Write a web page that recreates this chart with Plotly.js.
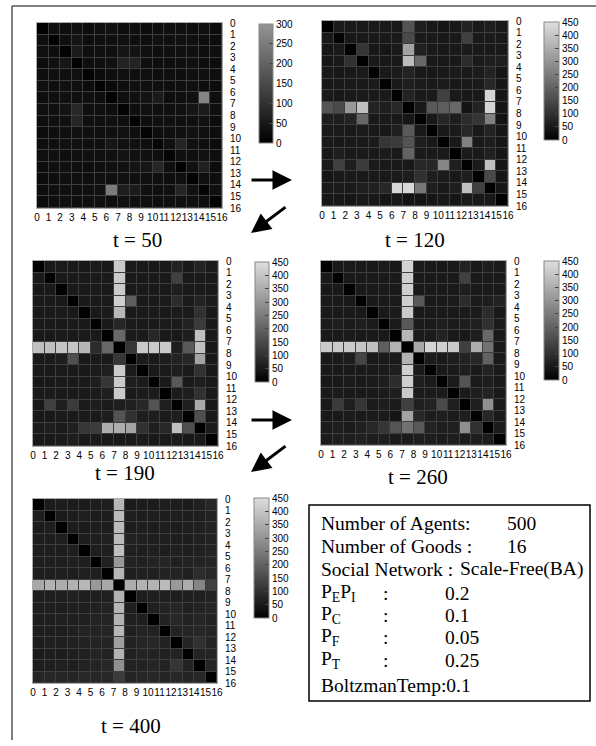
<!DOCTYPE html>
<html><head><meta charset="utf-8">
<script src="https://cdn.plot.ly/plotly-3.0.1.min.js"></script>
<style>body{margin:0;background:#fff}#chart{width:596px;height:746px}</style>
</head><body><div id="chart"></div>
<script>
// tick labels / cell edges (goods 0..16 boundaries)
const edgeLabels = ['0','1','2','3','4','5','6','7','8','9','10','11','12','13','14','15','16'];
const edges = [0,1,2,3,4,5,6,7,8,9,10,11,12,13,14,15,16];
const cbTicks300 = [0,50,100,150,200,250,300];
const cbTicks450 = [0,50,100,150,200,250,300,350,400,450];
const panelTitles = ['t = 50','t = 120','t = 190','t = 260','t = 400'];

const t50 = [
[5,30,28,32,26,30,35,28,30,25,28,30,32,28,30,25],
[28,5,30,40,28,30,32,35,30,28,32,30,35,30,28,25],
[30,28,5,55,30,32,30,45,40,30,28,30,32,30,28,30],
[25,30,45,0,28,30,32,70,70,30,25,28,30,32,28,25],
[28,32,30,35,8,25,28,30,32,30,28,30,28,30,32,28],
[30,28,32,30,25,5,20,28,30,32,30,28,30,32,28,25],
[28,30,35,32,30,28,5,30,32,40,55,28,30,32,270,28],
[30,32,40,80,32,30,28,10,30,35,30,32,35,45,55,30],
[28,30,32,75,30,32,35,30,5,28,30,35,32,30,35,25],
[25,28,30,35,32,30,32,35,30,8,28,30,32,35,30,28],
[28,30,32,35,30,32,45,35,32,30,15,32,75,35,30,25],
[30,32,28,30,32,30,32,40,35,32,30,10,32,30,35,28],
[28,30,32,30,28,30,32,35,40,45,80,30,5,32,65,25],
[25,28,30,32,30,32,30,35,32,30,32,28,30,8,30,28],
[28,30,32,30,32,35,250,60,55,32,30,35,75,35,10,30],
[25,28,30,28,30,32,30,35,32,30,28,30,32,30,28,8]];

const t120 = [
[0,55,50,50,52,50,48,170,60,48,45,48,70,50,60,50],
[50,8,48,50,50,52,50,150,55,50,48,50,130,50,55,50],
[45,50,5,110,48,45,50,330,65,50,48,50,55,50,50,50],
[45,50,100,0,50,48,50,380,210,50,48,50,90,55,60,60],
[50,48,50,52,5,50,55,70,50,48,50,52,50,55,70,45],
[48,50,52,50,55,5,50,60,55,50,52,48,50,55,80,45],
[50,48,50,55,50,52,5,70,50,52,130,50,48,50,430,45],
[170,150,310,390,70,60,80,0,50,180,190,210,40,70,430,45],
[60,60,70,210,50,52,50,45,0,50,80,60,90,110,260,40],
[50,52,50,55,50,48,60,180,50,5,50,55,80,50,70,45],
[50,48,52,50,55,110,120,170,60,50,5,50,260,50,60,45],
[48,60,50,55,50,55,50,200,55,50,50,0,55,50,65,45],
[50,130,60,120,55,50,50,50,80,80,270,60,0,55,390,45],
[45,50,55,50,52,50,55,60,100,60,55,50,60,5,150,45],
[50,55,50,60,65,80,440,440,240,60,50,60,390,130,0,45],
[45,48,45,50,48,45,50,40,40,45,48,45,50,48,50,0]];

const t190 = [
[0,50,52,50,50,52,50,410,55,50,48,50,70,50,70,55],
[50,5,50,52,50,50,55,410,50,50,52,50,130,50,55,50],
[48,50,5,50,50,52,50,410,50,52,50,50,60,50,55,50],
[50,52,50,0,50,50,52,420,190,50,50,52,90,55,70,55],
[50,50,52,50,5,50,55,370,50,50,52,50,55,55,100,50],
[52,50,50,55,50,5,50,80,55,50,50,55,55,70,120,50],
[50,52,55,50,52,50,5,210,55,55,80,50,50,60,390,50],
[390,390,400,400,370,90,210,0,110,410,410,410,60,180,390,50],
[50,55,60,160,50,52,50,110,0,55,50,60,70,80,330,50],
[50,50,52,55,50,55,60,410,55,5,50,55,60,55,100,50],
[48,50,55,50,55,60,110,410,60,55,5,55,180,55,60,50],
[50,55,50,52,50,55,60,410,55,55,55,0,55,60,100,50],
[50,130,60,120,55,60,55,60,65,80,170,60,0,60,340,50],
[48,50,55,52,55,52,60,170,100,60,60,55,60,5,160,50],
[55,60,55,65,110,120,350,350,330,100,60,80,390,160,0,55],
[50,52,55,60,52,55,50,50,52,55,50,52,55,50,50,0]];

const t260 = [
[0,50,52,50,50,52,50,430,55,50,48,50,70,50,60,55],
[50,5,50,52,50,50,55,420,50,50,52,50,130,50,55,50],
[48,50,5,50,50,55,50,420,50,52,50,50,60,50,55,50],
[50,52,50,0,50,50,52,420,180,50,50,52,90,55,60,70],
[50,50,52,50,5,50,55,410,50,50,52,50,55,55,90,50],
[55,60,55,60,55,5,55,180,55,55,60,55,60,65,100,55],
[50,52,55,50,52,50,5,370,55,55,70,50,50,60,210,50],
[410,410,410,400,390,190,360,0,340,430,420,410,130,350,230,50],
[50,55,60,140,50,52,50,360,0,55,50,60,70,80,200,50],
[50,50,52,55,50,55,60,420,55,5,50,55,60,55,70,50],
[48,50,55,50,55,60,90,420,60,55,5,55,170,55,60,50],
[50,55,50,52,50,55,60,410,55,55,55,0,55,60,70,50],
[50,120,60,110,55,60,55,130,65,70,150,60,0,60,290,50],
[48,50,55,52,55,52,40,330,80,60,60,55,60,5,80,50],
[55,60,55,65,80,110,170,230,180,70,60,65,290,100,0,55],
[55,60,60,65,60,60,55,55,60,60,55,60,55,60,55,0]];

const t400 = [
[0,55,58,55,55,58,60,370,55,58,55,60,58,55,65,80],
[58,0,55,58,60,55,58,380,60,58,60,58,60,58,60,70],
[55,60,0,58,55,60,58,380,58,60,58,60,58,60,65,70],
[60,58,60,0,58,60,65,380,70,65,60,62,60,58,65,70],
[58,60,58,62,0,60,62,390,65,60,62,60,65,60,65,70],
[60,62,60,65,62,0,65,310,70,65,70,75,65,70,70,75],
[58,60,62,60,65,62,0,370,62,65,65,70,68,65,90,80],
[340,360,350,360,370,310,340,0,350,360,360,380,310,350,270,130],
[58,60,62,65,60,62,65,360,0,60,62,65,60,62,65,70],
[60,62,60,65,62,65,70,370,62,0,65,70,75,65,70,75],
[58,60,65,62,65,70,75,360,65,62,0,70,80,70,75,70],
[60,62,60,65,70,68,75,370,65,70,68,0,70,75,80,75],
[58,65,62,65,68,70,75,320,70,75,80,70,0,75,100,75],
[55,60,58,62,65,70,68,360,65,70,68,65,70,0,70,75],
[60,62,65,62,68,70,80,290,70,68,75,70,110,70,0,75],
[75,80,78,75,80,78,80,120,75,78,80,75,80,75,80,0]];

const infoLabels = ['Number of Agents:','Number of Goods :','Social Network :','P<sub>E</sub>P<sub>I</sub>','P<sub>C</sub>','P<sub>F</sub>','P<sub>T</sub>','BoltzmanTemp:0.1'];
const infoValues = ['500','16','Scale-Free(BA)','0.2','0.1','0.05','0.25',''];

const W = 596, H = 746;
const fx = p => p / W;
const fy = p => 1 - p / H;

// pixel layout of each panel: heatmap box, colorbar box, title centre
const panels = [
  {z: t50,  zmax: 300, top: 'rgb(148,148,148)', ticks: cbTicks300, hm: [37,222,23,208], cb: [259,273,24,143], title: [137,240]},
  {z: t120, zmax: 450, top: 'rgb(222,222,222)', ticks: cbTicks450, hm: [322,508,21,206], cb: [544,559,22,140], title: [415,240]},
  {z: t190, zmax: 450, top: 'rgb(222,222,222)', ticks: cbTicks450, hm: [33,218,261,446], cb: [255,269,262,382], title: [125,473]},
  {z: t260, zmax: 450, top: 'rgb(222,222,222)', ticks: cbTicks450, hm: [321,506,261,445], cb: [544,559,261,380], title: [418,477]},
  {z: t400, zmax: 450, top: 'rgb(222,222,222)', ticks: cbTicks450, hm: [33,217,499,683], cb: [254,269,498,618], title: [131,726]}
];

const tickFont = {family: 'Liberation Sans, Arial, sans-serif', size: 10, color: '#000'};
const serif = 'Liberation Serif, Times New Roman, serif';

const data = [];
const layout = {
  width: W, height: H,
  margin: {l: 0, r: 0, t: 0, b: 0},
  paper_bgcolor: '#fff',
  plot_bgcolor: '#3e3e3e',
  showlegend: false,
  shapes: [],
  annotations: []
};

panels.forEach((p, i) => {
  const n = i + 1;
  const xs = n === 1 ? '' : String(n);
  data.push({
    type: 'heatmap',
    z: p.z, x: edges, y: edges,
    xaxis: 'x' + xs, yaxis: 'y' + xs,
    zmin: 0, zmax: p.zmax,
    colorscale: [[0, 'rgb(0,0,0)'], [1, p.top]],
    xgap: 1, ygap: 1,
    hoverinfo: 'skip',
    colorbar: {
      x: fx(p.cb[0]), xanchor: 'left', xpad: 0,
      y: fy(p.cb[2]), yanchor: 'top', ypad: 0,
      len: (p.cb[3] - p.cb[2]) / H, lenmode: 'fraction',
      thickness: p.cb[1] - p.cb[0], thicknessmode: 'pixels',
      outlinewidth: 1, outlinecolor: '#888',
      tickvals: p.ticks, ticktext: p.ticks.map(String),
      tickprefix: '\u00a0\u00a0',
      ticks: 'inside', ticklen: 4, tickwidth: 1, tickcolor: '#444',
      tickfont: tickFont
    }
  });
  layout['xaxis' + xs] = {
    domain: [fx(p.hm[0]), fx(p.hm[1])],
    anchor: 'y' + xs,
    range: [0, 16], tickvals: edges, ticktext: edgeLabels,
    tickangle: 0, ticks: '', tickfont: tickFont,
    showgrid: false, zeroline: false,
    showline: true, mirror: true, linecolor: '#aaa', linewidth: 1,
    fixedrange: true
  };
  layout['yaxis' + xs] = {
    domain: [fy(p.hm[3]), fy(p.hm[2])],
    anchor: 'x' + xs, side: 'right',
    range: [16, 0], tickvals: edges, ticktext: edgeLabels,
    ticks: '', ticklabelstandoff: 5, tickfont: tickFont,
    showgrid: false, zeroline: false,
    showline: true, mirror: true, linecolor: '#aaa', linewidth: 1,
    fixedrange: true
  };
  layout.annotations.push({
    xref: 'paper', yref: 'paper', x: fx(p.title[0]), y: fy(p.title[1]),
    xanchor: 'center', yanchor: 'middle', showarrow: false, borderpad: 0,
    text: panelTitles[i], font: {family: serif, size: 21, color: '#000'}
  });
});

// arrows (tip position, tail offset in px)
const arrows = [[292,180,-42,0],[251,233,36,-27],[292,420,-42,0],[251,472,36,-27]];
arrows.forEach(a => layout.annotations.push({
  xref: 'paper', yref: 'paper', x: fx(a[0]), y: fy(a[1]), ax: a[2], ay: a[3],
  text: '', showarrow: true, arrowhead: 2, arrowsize: 1.3, arrowwidth: 3, arrowcolor: '#000'
}));

// frame (top and left edge) and parameter box
layout.shapes.push(
  {type: 'line', xref: 'paper', yref: 'paper', x0: fx(12), x1: 1, y0: fy(6), y1: fy(6), line: {color: '#555', width: 1.5}},
  {type: 'line', xref: 'paper', yref: 'paper', x0: fx(12), x1: fx(12), y0: fy(6), y1: fy(740), line: {color: '#555', width: 1.5}},
  {type: 'rect', xref: 'paper', yref: 'paper', x0: fx(309), x1: fx(590), y0: fy(505), y1: fy(701), line: {color: '#000', width: 1.5}, fillcolor: 'rgba(0,0,0,0)'}
);

const boxFont = {family: serif, size: 19.5, color: '#000'};
const rowY = [523, 546, 569, 593, 615, 637, 660, 685];
infoLabels.forEach((lab, i) => {
  layout.annotations.push({xref: 'paper', yref: 'paper', x: fx(319), y: fy(rowY[i]), xanchor: 'left', yanchor: 'middle',
    showarrow: false, text: lab, font: boxFont});
  if (i >= 3 && i <= 6) {
    layout.annotations.push({xref: 'paper', yref: 'paper', x: fx(381), y: fy(rowY[i]), xanchor: 'left', yanchor: 'middle',
      showarrow: false, text: ':', font: boxFont});
  }
  if (infoValues[i] !== '') {
    const vx = i < 2 ? 505 : (i === 2 ? 458 : 443);
    layout.annotations.push({xref: 'paper', yref: 'paper', x: fx(vx), y: fy(rowY[i]), xanchor: 'left', yanchor: 'middle',
      showarrow: false, text: infoValues[i], font: boxFont});
  }
});

Plotly.newPlot('chart', data, layout, {displayModeBar: false, staticPlot: true});
</script>
</body></html>
